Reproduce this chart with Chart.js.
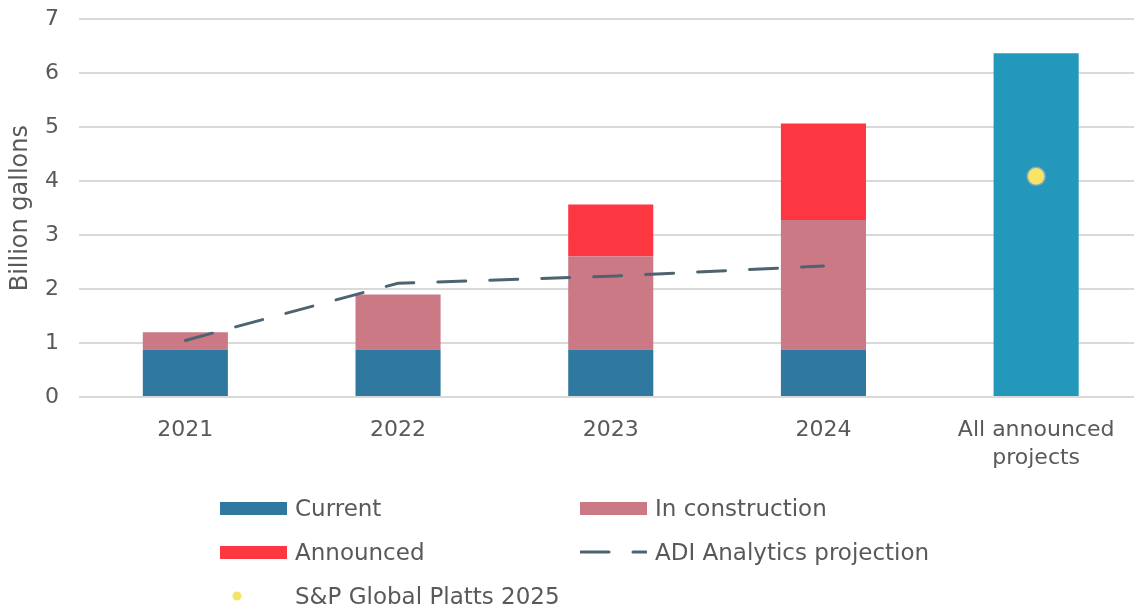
<!DOCTYPE html>
<html>
<head>
<meta charset="utf-8">
<script src="https://cdn.jsdelivr.net/npm/chart.js@4/dist/chart.umd.min.js"></script>
<style>
  html, body { margin: 0; padding: 0; background: #fff; overflow: hidden; }
  #wrap { position: relative; width: 1153px; height: 497px; margin-top: -14px; }
  #legend { position: absolute; left: 0; top: 0; width: 1134px; height: 610px; pointer-events: none;
            font-family: "DejaVu Sans", sans-serif; font-size: 23px; color: #595959; }
  .item { position: absolute; display: flex; align-items: center; height: 30px; }
  .item span.t { margin-left: 8px; white-space: nowrap; }
</style>
</head>
<body>
<div id="wrap"><canvas id="myChart"></canvas></div>
<div id="legend"></div>
<script>
var categories = ["2021", "2022", "2023", "2024", ["All announced", "projects"]];
var current = [0.88, 0.88, 0.88, 0.88, null];
var inConstruction = [0.32, 1.02, 1.73, 2.40, null];
var announced = [0, 0, 0.96, 1.79, null];
var allAnnounced = [null, null, null, null, 6.37];
var adiProjection = [1.05, 2.11, 2.24, 2.43, null];
var spGlobal = [null, null, null, null, 4.09];
var yTicks = [0, 1, 2, 3, 4, 5, 6, 7];

var textColor = "#595959";
var fontFamily = "'DejaVu Sans', sans-serif";

var ctx = document.getElementById("myChart");

var chart = new Chart(ctx, {
    type: "bar",
    data: {
        labels: categories,
        datasets: [
            { label: "Current", data: current, backgroundColor: "#2F789F", stack: "s", order: 2 },
            { label: "In construction", data: inConstruction, backgroundColor: "#CC7986", stack: "s", order: 2 },
            { label: "Announced", data: announced, backgroundColor: "#FC3742", stack: "s", order: 2 },
            { label: "All announced projects", data: allAnnounced, backgroundColor: "#2398BA", stack: "s", order: 2 },
            {
                type: "line", label: "ADI Analytics projection", data: adiProjection,
                borderColor: "#4D6370", borderWidth: 3, borderDash: [28, 24],
                borderCapStyle: "round", pointRadius: 0, fill: false, order: 0, spanGaps: false
            },
            {
                type: "line", label: "S&P Global Platts 2025", data: spGlobal,
                showLine: false, pointRadius: 9, pointBackgroundColor: "#F5E466",
                pointBorderColor: "#8FA3BD", pointBorderWidth: 1.5, order: 0
            }
        ]
    },
    options: {
        responsive: true,
        maintainAspectRatio: false,
        animation: false,
        layout: { padding: { top: 6, right: 0, bottom: 0, left: 0 } },
        datasets: { bar: { categoryPercentage: 1, barPercentage: 0.4 } },
        plugins: { legend: { display: false }, tooltip: { enabled: false } },
        scales: {
            x: {
                stacked: true,
                grid: { display: false },
                border: { display: false },
                ticks: { color: textColor, font: { family: fontFamily, size: 22, lineHeight: 1.27 }, padding: 11, maxRotation: 0 }
            },
            y: {
                stacked: true,
                min: 0, max: 7,
                afterBuildTicks: function (scale) { scale.ticks = yTicks.map(function (v) { return { value: v }; }); },
                afterFit: function (scale) { scale.width = 79; },
                grid: { color: "#D9D9D9", lineWidth: 2, drawTicks: false },
                border: { display: false },
                ticks: { color: textColor, font: { family: fontFamily, size: 22 }, padding: 20 },
                title: { display: true, text: "Billion gallons", color: textColor, font: { family: fontFamily, size: 24 }, padding: { top: 6, bottom: 0 } }
            }
        }
    }
});

// legend laid out in two columns like the original
var legendPos = [[220, 508], [580, 508], [220, 552], [580, 552], [220, 596]];
var legendItems = [0, 1, 2, 4, 5];
var legend = document.getElementById("legend");
legendItems.forEach(function (di, i) {
    var ds = chart.data.datasets[di];
    var el = document.createElement("div");
    el.className = "item";
    el.style.left = legendPos[i][0] + "px";
    el.style.top = (legendPos[i][1] - 15) + "px";
    var sym;
    if (ds.type === "line" && ds.showLine === false) {
        sym = '<svg width="67" height="14"><circle cx="17" cy="7" r="4.5" fill="' + ds.pointBackgroundColor + '"/></svg>';
    } else if (ds.type === "line") {
        sym = '<svg width="67" height="14"><line x1="1" y1="7" x2="66" y2="7" stroke="' + ds.borderColor +
              '" stroke-width="3" stroke-linecap="round" stroke-dasharray="28 24 14 10"/></svg>';
    } else {
        sym = '<div style="width:67px;height:13px;background:' + ds.backgroundColor + '"></div>';
    }
    el.innerHTML = sym + '<span class="t">' + ds.label + '</span>';
    legend.appendChild(el);
});
</script>
</body>
</html>
